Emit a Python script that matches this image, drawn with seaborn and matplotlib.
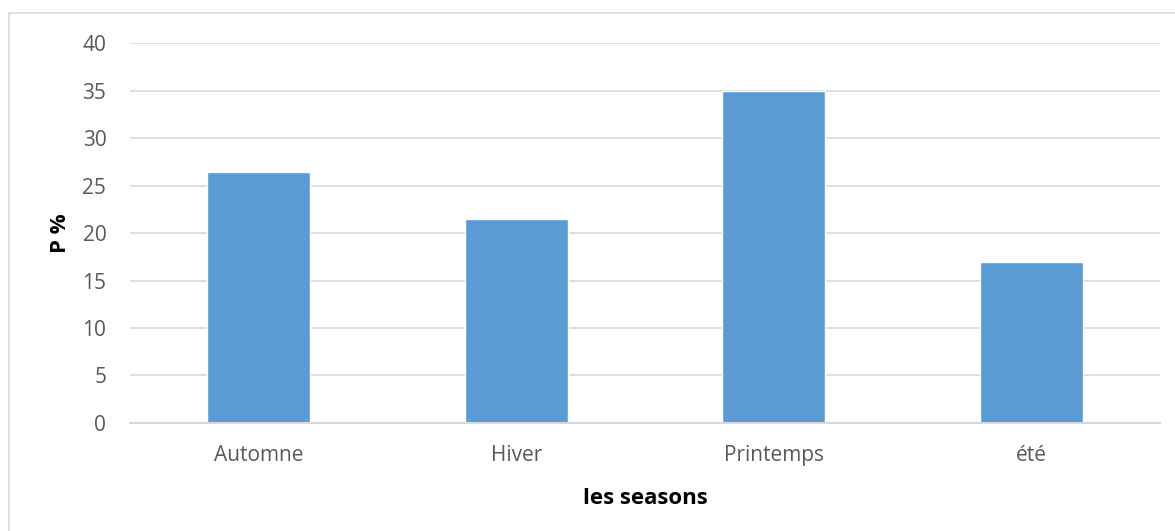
import pandas as pd
import seaborn as sns
import matplotlib.pyplot as plt
from matplotlib.lines import Line2D

seasons = ['Automne', 'Hiver', 'Printemps', 'été']
p_values = [26.4, 21.5, 34.9, 17.0]
y_ticks = [0, 5, 10, 15, 20, 25, 30, 35, 40]

df = pd.DataFrame({'saison': seasons, 'p': p_values})

sns.set_style('white')
plt.rcParams['font.family'] = ['Open Sans', 'DejaVu Sans']

fig = plt.figure(figsize=(11.75, 5.31), dpi=100)
ax = fig.add_axes([0.1106, 0.2034, 0.8766, 0.7156])

sns.barplot(data=df, x='saison', y='p', color='#5b9bd5', saturation=1,
            width=0.4, ax=ax, zorder=3)

ax.set_ylim(0, 40)
ax.set_yticks(y_ticks)
ax.set_xlim(-0.5, 3.5)
ax.yaxis.grid(True, color='#d9d9d9', linewidth=1.2, zorder=0)
ax.set_axisbelow(True)
for s in ['top', 'right', 'left']:
    ax.spines[s].set_visible(False)
ax.spines['bottom'].set_color('#d9d9d9')
ax.spines['bottom'].set_linewidth(1.5)
ax.spines['bottom'].set_zorder(4)

ax.tick_params(axis='both', length=0, labelsize=15, labelcolor='#595959')
ax.tick_params(axis='x', pad=16)
ax.tick_params(axis='y', pad=17)

ax.set_xlabel('les seasons', fontsize=16, fontweight='bold', color='black', labelpad=16)
ax.set_ylabel('P %', fontsize=16, fontweight='bold', color='black', labelpad=8)

# outer chart-area border (only left and top edges visible in the crop)
fig.add_artist(Line2D([8.5 / 1175, 8.5 / 1175], [0, 1 - 13 / 531],
                      transform=fig.transFigure, color='#d9d9d9', linewidth=1.2))
fig.add_artist(Line2D([8.5 / 1175, 1], [1 - 13 / 531, 1 - 13 / 531],
                      transform=fig.transFigure, color='#d9d9d9', linewidth=1.2))

fig.savefig('out.png', dpi=100)
